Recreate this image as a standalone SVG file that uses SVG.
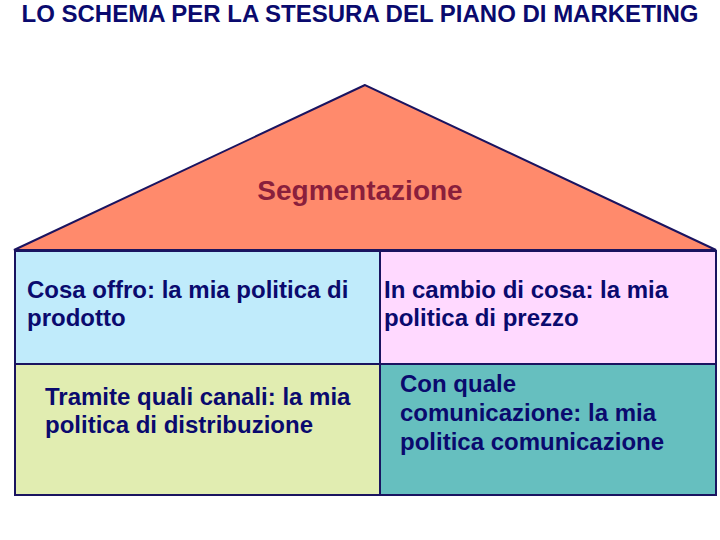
<svg xmlns="http://www.w3.org/2000/svg" width="720" height="540" viewBox="0 0 720 540">
<style>
.t{font-family:"Liberation Sans",Arial,sans-serif;font-size:24px;font-weight:bold;fill:#0a0a6e}
.title{font-family:"Liberation Sans",Arial,sans-serif;font-size:24px;font-weight:bold;fill:#0a0a6e}
.seg{font-family:"Liberation Sans",Arial,sans-serif;font-size:28px;font-weight:bold;fill:#8a1f3c}
.box{stroke:#1a1460;stroke-width:2}
</style>
<rect width="720" height="540" fill="#ffffff"/>
<text class="title" x="360" y="22" text-anchor="middle">LO SCHEMA PER LA STESURA DEL PIANO DI MARKETING</text>
<g id="roof">
<polygon points="365,85 14,250 716,250" fill="#ff8a6c" stroke="#1a1460" stroke-width="2"/>
<text class="seg" x="360" y="200" text-anchor="middle">Segmentazione</text>
</g>
<g id="prodotto">
<rect class="box" x="15" y="251" width="365" height="113" fill="#c0ebfb"/>
<text class="t" x="27" y="298">Cosa offro: la mia politica di</text>
<text class="t" x="27" y="326">prodotto</text>
</g>
<g id="prezzo">
<rect class="box" x="380" y="251" width="336" height="113" fill="#ffd9ff"/>
<text class="t" x="384" y="298">In cambio di cosa: la mia</text>
<text class="t" x="384" y="326">politica di prezzo</text>
</g>
<g id="distribuzione">
<rect class="box" x="15" y="364" width="365" height="131" fill="#e1edb1"/>
<text class="t" x="45" y="405">Tramite quali canali: la mia</text>
<text class="t" x="45" y="433">politica di distribuzione</text>
</g>
<g id="comunicazione">
<rect class="box" x="380" y="364" width="336" height="131" fill="#66bfbf"/>
<text class="t" x="400" y="392">Con quale</text>
<text class="t" x="400" y="421">comunicazione: la mia</text>
<text class="t" x="400" y="450">politica comunicazione</text>
</g>
<g id="connectors"/>
</svg>
